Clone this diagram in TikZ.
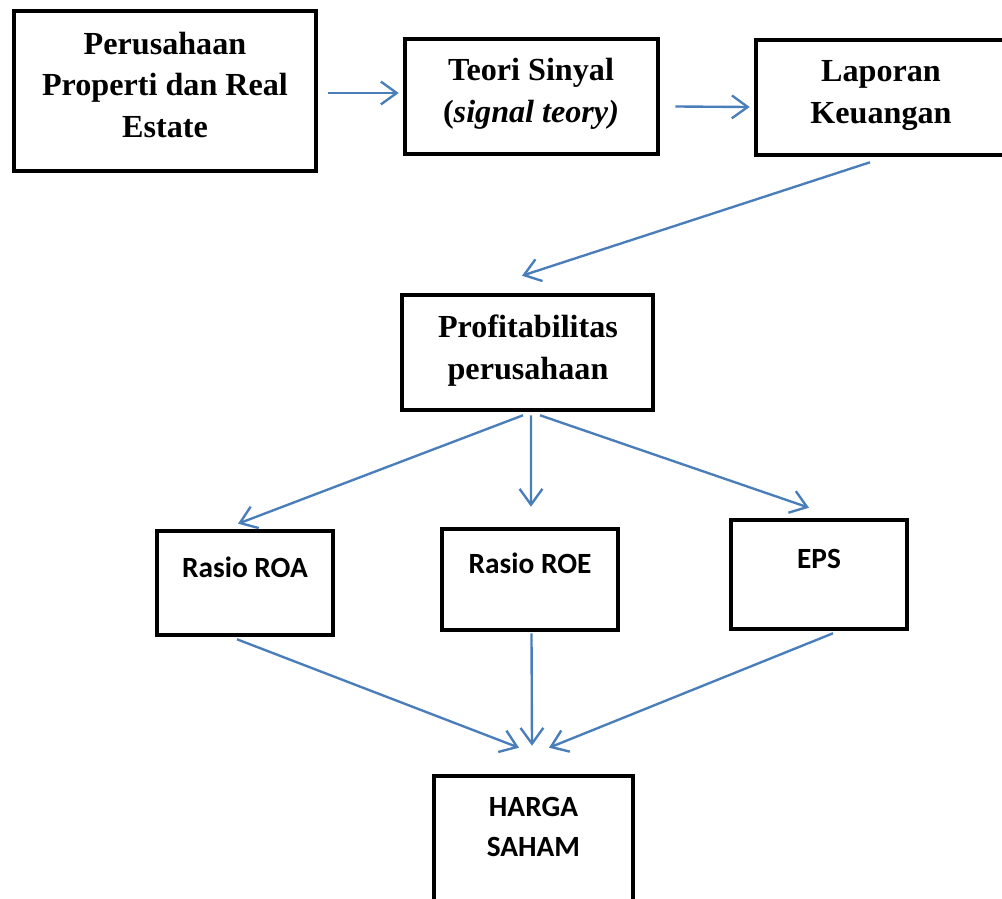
\documentclass[tikz,border=0pt]{standalone}
\usepackage{fontspec}
\setmainfont{Liberation Serif}
\newfontfamily\calibrifont{Carlito}
\usepackage{tikz}
\usetikzlibrary{arrows.meta,calc,shapes}
\definecolor{linkblue}{RGB}{74,126,187}
\tikzstyle{block}=[rectangle,draw,line width=2.6pt,inner sep=0pt]
\tikzstyle{serifbold}=[font=\fontsize{18.3}{23.8}\selectfont\bfseries,align=center,inner sep=0pt]
\tikzstyle{calibold}=[font=\calibrifont\fontsize{16.7}{23.3}\selectfont\bfseries,align=center,inner sep=0pt]
\tikzstyle{link}=[draw,linkblue,line width=1.35pt,-{Straight Barb[length=9pt,width=13pt]}]

\begin{document}
\begin{tikzpicture}[x=0.02cm,y=-0.02cm]

    \useasboundingbox (0,0) rectangle (1002,899);

    % kotak
    \foreach \x/\y/\w/\h/\name in {165/91/302/160/firm, 531.5/96.5/253/115/teori, 882/97.5/252/115/lapor,
        527.5/352.5/251/115/profit, 245/583/176/104/roa, 530/579.5/176/101/roe, 819/574.5/176/109/eps,
        533.5/853/199/154/harga}
        \node[block, minimum width=\w*0.02cm, minimum height=\h*0.02cm] (\name) at (\x,\y) {};

    % teks
    \node[serifbold] (firmtext) at (165,85) {Perusahaan\\Properti dan Real\\Estate};
    \node[serifbold] (teoritext) at (531,94) {Teori Sinyal\\(\textit{signal teory)}};
    \node[serifbold] (laportext) at (881,95.5) {Laporan\\Keuangan};
    \node[serifbold] (profittext) at (528,350.5) {Profitabilitas\\perusahaan};

    \foreach \x/\y/\name/\txt in {245/577.5/roatext/{Rasio ROA}, 530/573/roetext/{Rasio ROE}, 819/568/epstext/{EPS}}
        \node[calibold, anchor=base] (\name) at (\x,\y) {\txt};
    \node[calibold] (hargatext) at (533.5,827) {HARGA\\SAHAM};

    % panah
    \draw[link] ($(firm.east)+(10,2)$) -- ($(teori.west)+(-4,-3.5)$);
    \draw[link] ($(teori.east)+(15,10)$) -- ($(lapor.west)+(-4,9.5)$);
    \draw[link] ($(lapor.south)+(-12,5)$) -- ($(profit.north)+(-5.5,-17)$);

    \draw[link] ($(profit.south)+(-4.5,3)$) -- ($(roa.north)+(-7,-5)$);
    \draw[link] ($(profit.south)+(3.5,3)$) -- ($(roe.north)+(1,-20)$);
    \draw[link] ($(profit.south)+(12.5,3)$) -- ($(eps.north)+(-10,-10)$);

    \draw[link] ($(roa.south)+(-8,2)$) -- ($(harga.north)+(-14.5,-26)$);
    \draw[link] ($(roe.south)+(1.5,1)$) -- ($(harga.north)+(-1.5,-28)$);
    \draw[link] ($(eps.south)+(14,2)$) -- ($(harga.north)+(15.5,-26)$);

\end{tikzpicture}
\end{document}
